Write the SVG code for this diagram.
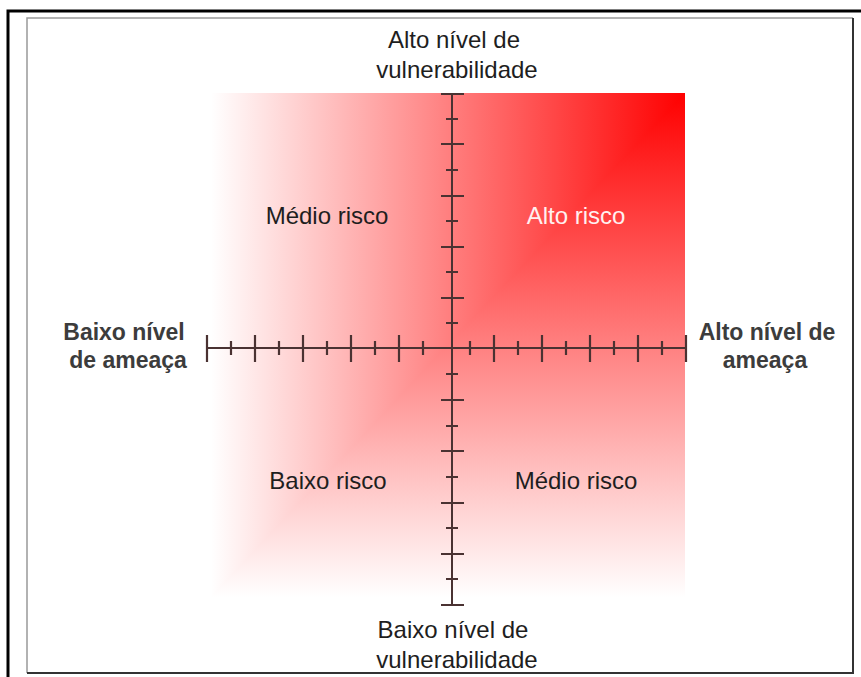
<svg xmlns="http://www.w3.org/2000/svg" width="861" height="677" viewBox="0 0 861 677">
<style>
.lbl{font-family:"Liberation Sans",Arial,sans-serif;font-size:24px;fill:#1e1e1e;text-anchor:middle}
.bold{font-family:"Liberation Sans",Arial,sans-serif;font-size:23px;font-weight:bold;fill:#3c3c3c;text-anchor:middle}
.axis{stroke:#4a3232;stroke-width:2;fill:none}
.tick{stroke:#4a3232;stroke-width:2.2}
</style>
<defs>
<linearGradient id="gh" gradientUnits="userSpaceOnUse" x1="211" y1="0" x2="685" y2="0">
<stop offset="0" stop-color="#ffffff"/><stop offset="1" stop-color="#ff0000"/>
</linearGradient>
<linearGradient id="gv" gradientUnits="userSpaceOnUse" x1="0" y1="597" x2="0" y2="93">
<stop offset="0" stop-color="#ffffff"/><stop offset="1" stop-color="#ff0000"/>
</linearGradient>
</defs>
<rect width="861" height="677" fill="#ffffff"/>
<g id="frame">
<path d="M8,677 V11 H861" fill="none" stroke="#000" stroke-width="3"/>
<path d="M853,18 H27 V673" fill="none" stroke="#999" stroke-width="1.5"/>
<path d="M853,18 V673 H27" fill="none" stroke="#333" stroke-width="2"/>
</g>
<g id="field">
<rect x="211" y="93" width="474" height="504" fill="url(#gv)"/>
<polygon points="211,93 685,93 211,597" fill="url(#gh)"/>
</g>
<g id="connectors">
<path class="axis" d="M452,94 V605 M207,348 H686"/>
<path class="tick" d="M441,94 H464 M446,119 H458 M441,144 H464 M446,170 H458 M441,196 H464 M446,221 H458 M441,247 H464 M446,272 H458 M441,298 H464 M446,323 H458 M446,374 H458 M441,400 H464 M446,426 H458 M441,451 H464 M446,477 H458 M441,503 H464 M446,528 H458 M441,554 H464 M446,579 H458 M441,605 H464"/>
<path class="tick" d="M207,335 V362 M231,341 V355 M255,335 V362 M279,341 V355 M303,335 V362 M327,341 V355 M351,335 V362 M375,341 V355 M399,335 V362 M423,341 V355 M470,341 V355 M494,335 V362 M518,341 V355 M542,335 V362 M566,341 V355 M590,335 V362 M614,341 V355 M638,335 V362 M662,341 V355 M686,335 V362"/>
</g>
<g id="top-label"><text class="lbl" x="454" y="48">Alto nível de</text><text class="lbl" x="457" y="78">vulnerabilidade</text></g>
<g id="bottom-label"><text class="lbl" x="453" y="638">Baixo nível de</text><text class="lbl" x="457" y="668">vulnerabilidade</text></g>
<g id="left-label"><text class="bold" x="124" y="340">Baixo nível</text><text class="bold" x="128" y="368">de ameaça</text></g>
<g id="right-label"><text class="bold" x="767" y="340">Alto nível de</text><text class="bold" x="765" y="368">ameaça</text></g>
<g id="q-tl"><text class="lbl" x="327" y="224">Médio risco</text></g>
<g id="q-tr"><text class="lbl" x="576" y="224" style="fill:#fff0f0">Alto risco</text></g>
<g id="q-bl"><text class="lbl" x="328" y="489">Baixo risco</text></g>
<g id="q-br"><text class="lbl" x="576" y="489">Médio risco</text></g>
</svg>
